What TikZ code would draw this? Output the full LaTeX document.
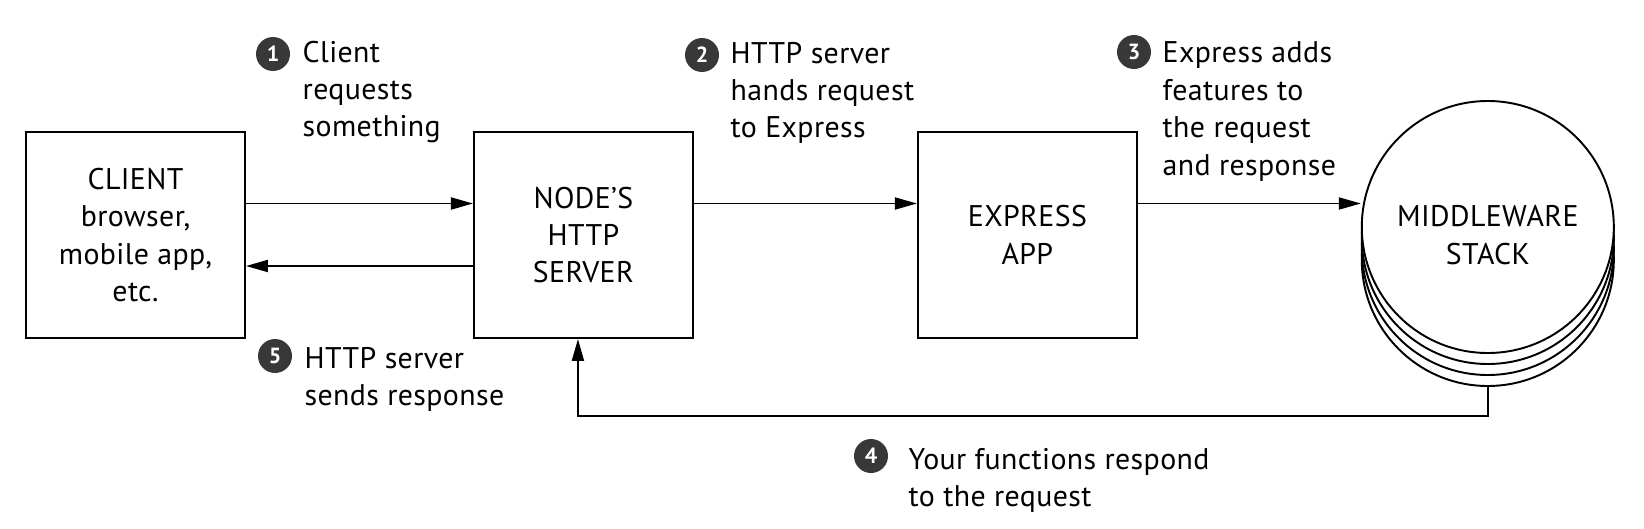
\documentclass[tikz,border=0pt]{standalone}
\usepackage{fontspec}
\setmainfont{PT Sans}[LetterSpace=1.3]
\usetikzlibrary{arrows.meta,positioning,backgrounds}

\tikzset{
  block/.style={draw, line width=1.1pt, minimum width=4.38cm, minimum height=4.12cm, align=center, font=\fontsize{17}{21.3}\selectfont},
  disc/.style={draw, circle, line width=1.1pt, fill=white, minimum size=5.04cm, inner sep=0pt},
  badge/.style={circle, fill=black!78, text=white, inner sep=0pt, minimum size=.68cm, font=\fontsize{12.5}{12.5}\selectfont\bfseries},
  note/.style={align=left, anchor=north west, inner sep=0pt, font=\fontsize{17}{21.3}\selectfont},
  flow/.style={line width=1.1pt, -{Triangle[length=4.4mm,width=2.4mm]}},
}

\begin{document}
\begin{tikzpicture}
  \useasboundingbox (-2.71,-5.86) rectangle (30.17,4.70);

  \node (client)[block] at (0,0) {CLIENT\\browser,\\mobile app,\\etc.};
  \node (server)[block, right=4.54cm of client] {NODE’S\\HTTP\\SERVER};
  \node (express)[block, right=4.46cm of server] {EXPRESS\\APP};
  \node (mw1)[disc, right=4.46cm of express, yshift=.16cm] {};
  \begin{scope}[on background layer]
    \node (mw4)[disc] at ([yshift=-.66cm]mw1.center) {};
    \node (mw3)[disc] at ([yshift=-.44cm]mw1.center) {};
    \node (mw2)[disc] at ([yshift=-.22cm]mw1.center) {};
  \end{scope}
  \node (mwtext)[align=center, font=\fontsize{17}{21.3}\selectfont] at ([yshift=-.16cm]mw1.center) {MIDDLEWARE\\STACK};

  % request and response paths
  \coordinate (c1) at ([yshift=.63cm]client.east);
  \coordinate (s5) at ([yshift=-.62cm]server.west);
  \coordinate (s2) at ([yshift=.63cm]server.east);
  \coordinate (e3) at ([yshift=.63cm]express.east);
  \draw[flow] (c1) -- (c1 -| server.west);
  \draw[flow] (s5) -- (s5 -| client.east);
  \draw[flow] (s2) -- (s2 -| express.west);
  \draw[flow] (e3) -- (e3 -| mw1.west);
  \draw[flow] (mw4.south) -- ++(0,-.58) -| ([xshift=-.11cm]server.south);

  % numbered steps
  \node (n1)[badge] at (2.75,3.62) {1};
  \node (t1)[note] at ([xshift=.24cm,yshift=.27cm]n1.east) {Client\\requests\\something};
  \node (n2)[badge] at (11.33,3.60) {2};
  \node (t2)[note] at ([xshift=.22cm,yshift=.27cm]n2.east) {HTTP server\\hands request\\to Express};
  \node (n3)[badge] at (19.97,3.66) {3};
  \node (t3)[note] at ([xshift=.22cm,yshift=.21cm]n3.east) {Express adds\\features to\\the request\\and response};
  \node (n4)[badge] at (14.71,-4.42) {4};
  \node (t4)[note] at ([xshift=.40cm,yshift=.17cm]n4.east) {Your functions respond\\to the request};
  \node (n5)[badge] at (2.79,-2.42) {5};
  \node (t5)[note] at ([xshift=.24cm,yshift=.19cm]n5.east) {HTTP server\\sends response};
\end{tikzpicture}
\end{document}
